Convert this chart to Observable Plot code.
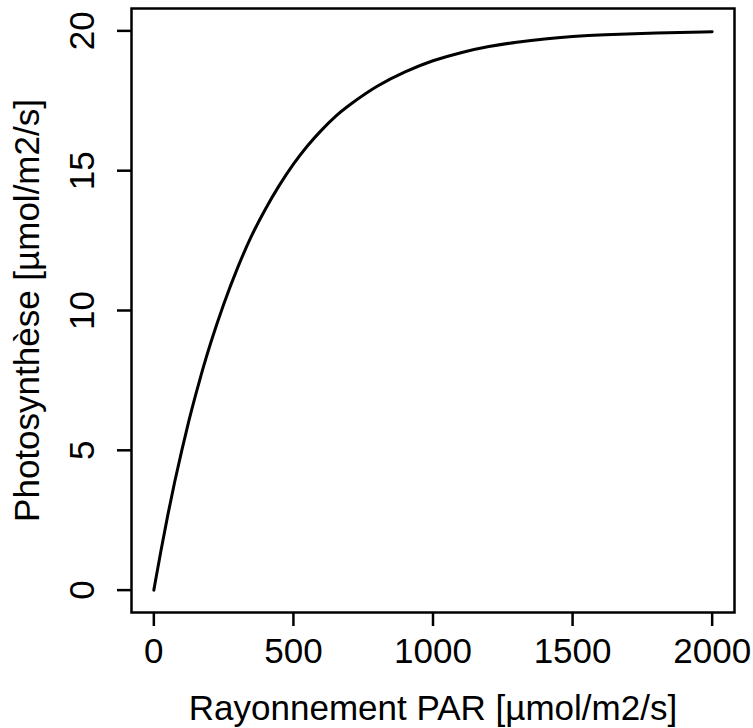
<!DOCTYPE html>
<html>
<head>
<meta charset="utf-8">
<script src="https://cdn.jsdelivr.net/npm/d3@7"></script>
<script src="https://cdn.jsdelivr.net/npm/@observablehq/plot@0.6"></script>
<style>
  html, body { margin: 0; padding: 0; background: white; }
</style>
</head>
<body>
<div id="chart"></div>
<script>
// Values
const par   = [0, 25, 50, 75, 100, 125, 150, 175, 200, 250, 300, 350, 400, 450, 500, 550, 600, 650, 700, 800, 900, 1000, 1100, 1200, 1300, 1400, 1500, 1600, 1800, 2000];
const photo = [0, 1.4, 2.7, 3.9, 5.0, 6.05, 7.0, 7.9, 8.75, 10.25, 11.55, 12.7, 13.65, 14.5, 15.25, 15.9, 16.45, 16.95, 17.35, 18.05, 18.55, 18.95, 19.23, 19.45, 19.6, 19.72, 19.8, 19.86, 19.93, 19.97];
const xTicks = [0, 500, 1000, 1500, 2000];
const yTicks = [0, 5, 10, 15, 20];
const xLabel = "Rayonnement PAR [µmol/m2/s]";
const yLabel = "Photosynthèse [µmol/m2/s]";

const data = par.map((p, i) => ({par: p, photo: photo[i]}));

const chart = Plot.plot({
  width: 753,
  height: 728,
  marginLeft: 131,
  marginRight: 19,
  marginTop: 8,
  marginBottom: 116,
  x: {domain: [-80, 2080]},
  y: {domain: [-0.8, 20.8]},
  style: {fontFamily: "'Liberation Sans', Arial, sans-serif", fontSize: "35px", color: "black", background: "white"},
  marks: [
    Plot.frame({stroke: "black", strokeWidth: 2.5}),
    Plot.axisX({
      ticks: xTicks, tickFormat: d => String(d), tickSize: 14, tickPadding: 12, strokeWidth: 2.5, fontSize: 35,
      label: xLabel, labelAnchor: "center", labelArrow: "none", labelOffset: 107
    }),
    Plot.axisY({
      ticks: yTicks, tickFormat: d => String(d), tickSize: 14, tickPadding: 24, tickRotate: -90, strokeWidth: 2.5, fontSize: 35,
      label: yLabel, labelAnchor: "center", labelArrow: "none", labelOffset: 117
    }),
    Plot.line(data, {x: "par", y: "photo", curve: "basis", stroke: "black", strokeWidth: 3})
  ]
});
document.getElementById("chart").appendChild(chart);
</script>
</body>
</html>
